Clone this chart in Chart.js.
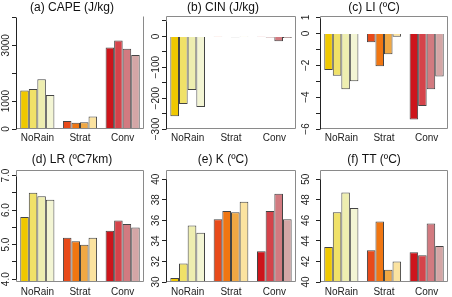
<!DOCTYPE html>
<html>
<head>
<meta charset="utf-8">
<script src="https://cdn.jsdelivr.net/npm/chart.js@4/dist/chart.umd.min.js"></script>
<style>
  body { margin: 0; background: #fff; }
  #wrap { position: relative; width: 452px; height: 297px; }
  canvas { position: absolute; }
</style>
</head>
<body>
<div id="wrap"></div>
<script>
// categories and bar colours (4 bars per group)
const categories = ['NoRain', 'Strat', 'Conv'];
const groupColors = [
  ['#EFC800', '#F0E168', '#EEEEB0', '#F3F5D4'],
  ['#E84A1A', '#F07612', '#F0A844', '#FBE3A0'],
  ['#CD151B', '#D5434A', '#D27A80', '#D4A6A6']
];

// values, one row per category
const cape = [[1380, 1430, 1780, 1220], [290, 220, 240, 450], [2920, 3170, 2880, 2650]];
const cin  = [[-259, -219, -174, -229], [-1, -2, -3, -1], [-1, -4, -16, -5]];
const li   = [[-2.3, -2.65, -3.5, -3.0], [-0.55, -2.05, -1.3, -0.2], [-5.4, -4.55, -3.5, -2.7]];
const lr   = [[5.8, 6.5, 6.4, 6.3], [5.2, 5.1, 5.0, 5.2], [5.4, 5.7, 5.6, 5.5]];
const kidx = [[30.4, 31.8, 35.5, 34.8], [36.1, 36.9, 36.8, 37.8], [33.0, 36.9, 38.6, 36.1]];
const tt   = [[43.4, 46.8, 48.7, 47.2], [43.1, 45.9, 41.2, 42.0], [42.9, 42.6, 45.7, 43.5]];

// y tick marks and the ones that carry a label
const capeTicks = [0, 1000, 2000, 3000, 4000], capeLabels = [0, 1000, 3000];
const cinTicks = [-300, -250, -200, -150, -100, -50, 0, 50], cinLabels = [-300, -200, -100, 0];
const liTicks = [-6, -5, -4, -3, -2, -1, 0, 1], liLabels = [-6, -4, -2, 0, 1];
const lrTicks = [4, 4.5, 5, 5.5, 6, 6.5, 7], lrLabels = [4, 5, 6, 7];
const kTicks = [30, 32, 34, 36, 38, 40], kLabels = kTicks;
const ttTicks = [40, 42, 44, 46, 48, 50], ttLabels = ttTicks;

const FONT = "'Liberation Sans', Arial, sans-serif";
const minus = v => String(v).replace('-', '\u2212');

const panels = [
  { title: '(a) CAPE (J/kg)', vals: cape, min: 0, max: 4050, ticks: capeTicks, labels: capeLabels, fmt: minus, top: false },
  { title: '(b) CIN (J/kg)', vals: cin, min: -300, max: 66, ticks: cinTicks, labels: cinLabels, fmt: minus, top: true },
  { title: '(c) LI (\u00BAC)', vals: li, min: -6, max: 1.1, ticks: liTicks, labels: liLabels, fmt: minus, top: true },
  { title: '(d) LR (\u00BAC7km)', vals: lr, min: 3.92, max: 7.16, ticks: lrTicks, labels: lrLabels, fmt: v => v.toFixed(1), top: true },
  { title: '(e) K (\u00BAC)', vals: kidx, min: 30, max: 40.9, ticks: kTicks, labels: kLabels, fmt: minus, top: true },
  { title: '(f) TT (\u00BAC)', vals: tt, min: 40, max: 50.9, ticks: ttTicks, labels: ttLabels, fmt: minus, top: true }
];

// canvas cells: columns and rows
const cols = [
  { x: 0, w: 150, left: 16, right: 144, lab: 10 },
  { x: 150, w: 150, left: 16, right: 146, lab: 10 },
  { x: 300, w: 152, left: 20, right: 148, lab: 14 }
];
const rows = [
  { y: 0, h: 150, top: 16, bottom: 129, pt: 0.8, lpad: 3 },
  { y: 150, h: 147, top: 20, bottom: 132, pt: 2.8, lpad: 4 }
];

const boxAxis = {
  id: 'boxAxis',
  afterDraw(chart, args, o) {
    const { ctx, chartArea: a } = chart;
    const y = chart.scales.y;
    const L = Math.round(a.left) + 0.5, R = Math.round(a.right) - 0.5;
    const T = Math.round(a.top) + 0.5, B = Math.round(a.bottom) - 0.5;
    ctx.save();
    ctx.lineWidth = 1;
    ctx.strokeStyle = '#8a8a8a';
    ctx.beginPath();
    if (o.top) { ctx.moveTo(L, T); ctx.lineTo(R, T); }
    ctx.moveTo(R, T); ctx.lineTo(R, B); ctx.lineTo(L, B);
    if (o.top) { ctx.moveTo(L, T); ctx.lineTo(L, B); }
    ctx.stroke();
    // y axis line from first to last tick
    const p0 = Math.round(y.getPixelForValue(o.ticks[0])) + 0.5;
    const p1 = Math.round(y.getPixelForValue(o.ticks[o.ticks.length - 1])) + 0.5;
    ctx.strokeStyle = '#222';
    ctx.beginPath(); ctx.moveTo(L, p0); ctx.lineTo(L, p1); ctx.stroke();
    // rotated tick labels
    ctx.fillStyle = '#222';
    ctx.font = '10px ' + FONT;
    ctx.textAlign = 'center';
    ctx.textBaseline = 'middle';
    o.labels.forEach(v => {
      ctx.save();
      ctx.translate(a.left - o.lab, y.getPixelForValue(v));
      ctx.rotate(-Math.PI / 2);
      ctx.fillText(o.fmt(v), 0, 0);
      ctx.restore();
    });
    ctx.restore();
  }
};

const wrap = document.getElementById('wrap');
panels.forEach((p, i) => {
  const c = cols[i % 3], r = rows[Math.floor(i / 3)];
  const cv = document.createElement('canvas');
  cv.width = c.w; cv.height = r.h;
  cv.style.left = c.x + 'px'; cv.style.top = r.y + 'px';
  wrap.appendChild(cv);

  const datasets = [0, 1, 2, 3].map(k => ({
    data: p.vals.map(g => g[k]),
    backgroundColor: groupColors.map(g => g[k]),
    borderColor: '#444',
    borderWidth: 1,
    categoryPercentage: 0.8,
    barPercentage: 1
  }));

  new Chart(cv, {
    type: 'bar',
    data: { labels: categories, datasets },
    options: {
      responsive: false,
      animation: false,
      devicePixelRatio: 1,
      layout: { padding: { left: 0, right: c.w - c.right, top: 0, bottom: 0 } },
      scales: {
        x: {
          grid: { display: false, drawTicks: false, tickLength: 0 },
          border: { display: false },
          ticks: { color: '#222', font: { size: 10, family: FONT }, padding: r.lpad, maxRotation: 0 },
          afterFit: s => { s.height = r.h - r.bottom; }
        },
        y: {
          min: p.min, max: p.max,
          border: { display: false },
          grid: { drawOnChartArea: false, drawTicks: true, tickLength: 4, color: '#222' },
          ticks: { display: false },
          afterBuildTicks: s => { s.ticks = p.ticks.map(v => ({ value: v })); },
          afterFit: s => { s.width = c.left; }
        }
      },
      plugins: {
        legend: { display: false },
        tooltip: { enabled: false },
        title: {
          display: true,
          text: p.title,
          color: '#111',
          font: { size: 12, weight: 'normal', family: FONT },
          padding: { top: r.pt, bottom: r.top - 14.4 - r.pt }
        },
        boxAxis: { top: p.top, ticks: p.ticks, labels: p.labels, fmt: p.fmt, lab: c.lab }
      }
    },
    plugins: [boxAxis]
  });
});
</script>
</body>
</html>
